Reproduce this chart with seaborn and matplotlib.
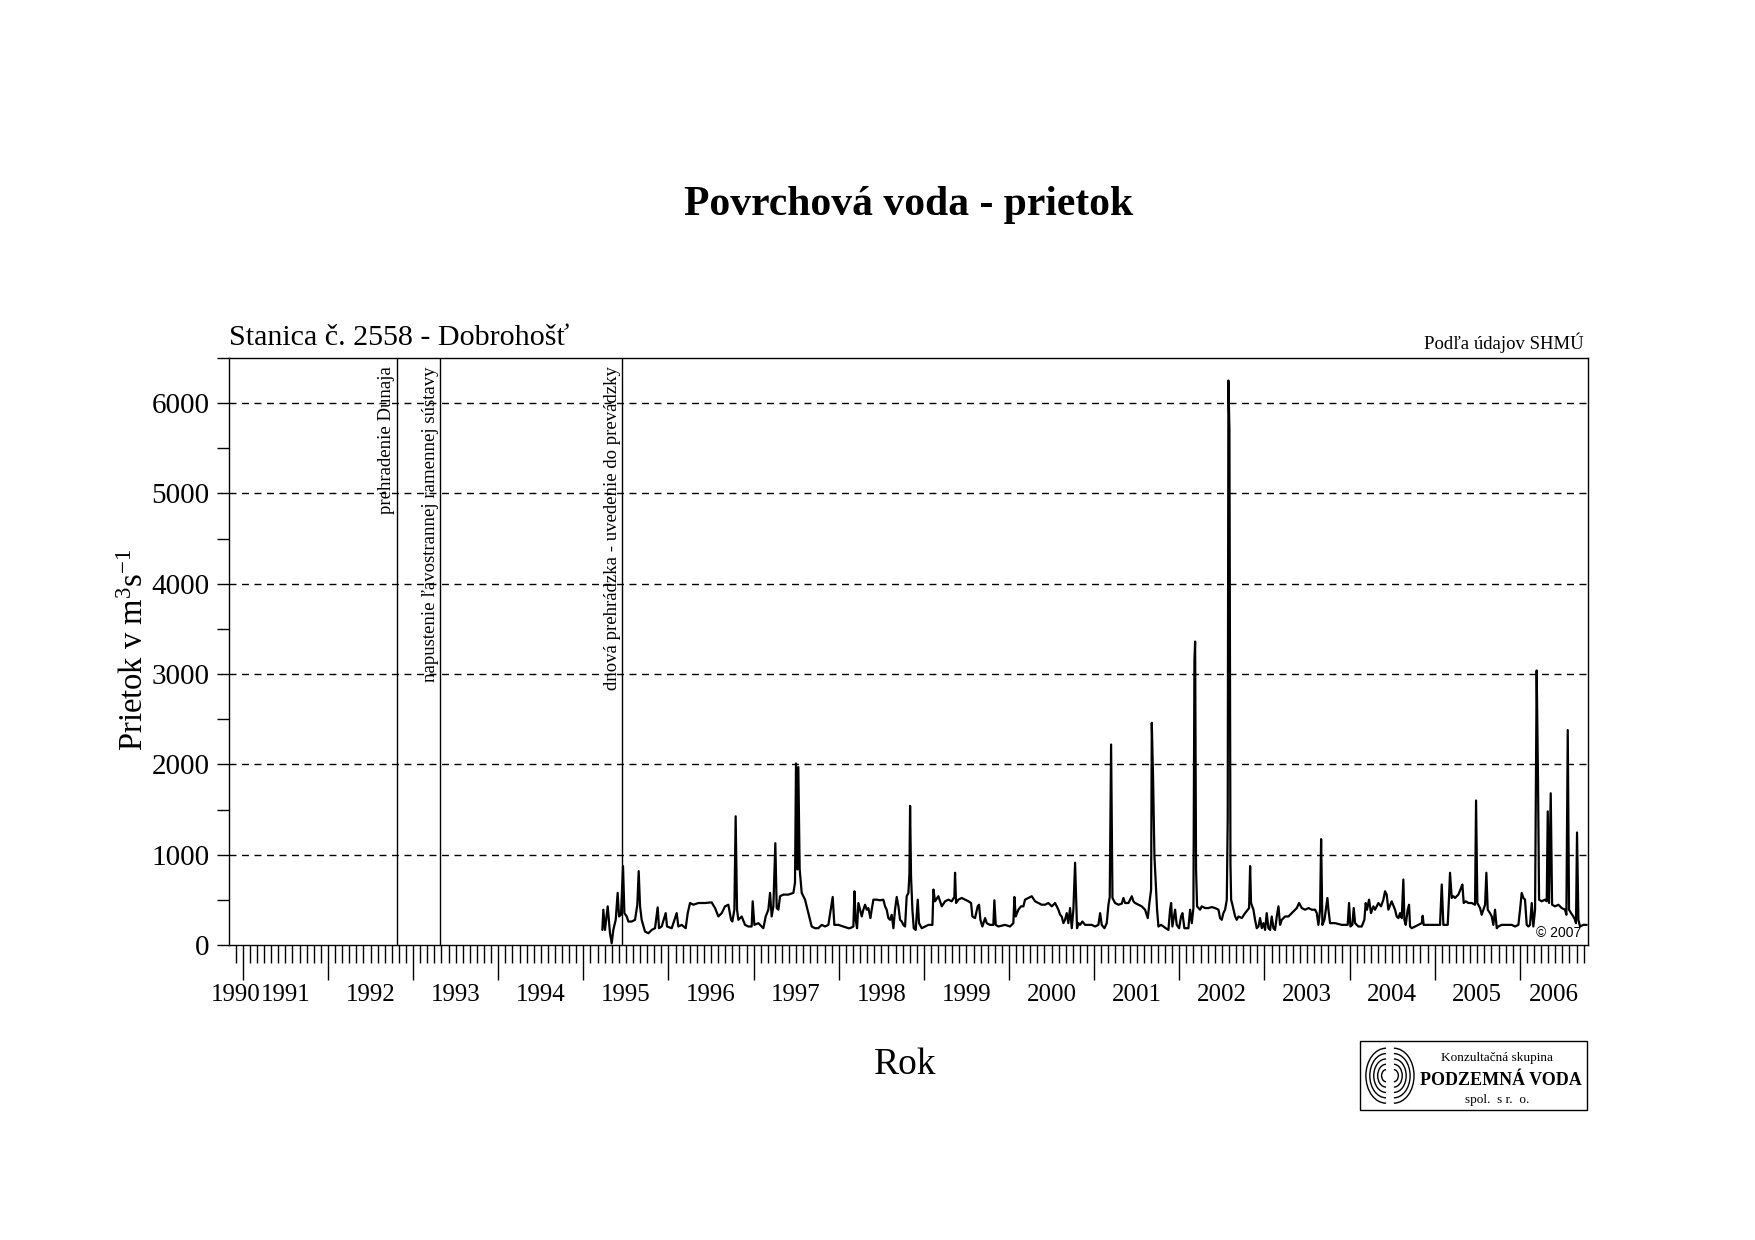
import numpy as np
import pandas as pd
import matplotlib
matplotlib.use('Agg')
import matplotlib.pyplot as plt
from matplotlib.ticker import MultipleLocator
from matplotlib.patches import Rectangle, Arc
import seaborn as sns

# discharge at station 2558 Dobrohošť
# (decimal year, m3/s)
years = [
    1995.223, 1995.235, 1995.254, 1995.286, 1995.313, 1995.333, 1995.352, 1995.380, 1995.403, 1995.419,
    1995.442, 1995.466, 1995.482, 1995.509, 1995.529, 1995.568, 1995.607, 1995.634, 1995.650, 1995.666,
    1995.685, 1995.724, 1995.764, 1995.803, 1995.842, 1995.873, 1995.889, 1995.920, 1995.967, 1995.983,
    1996.038, 1996.096, 1996.116, 1996.155, 1996.202, 1996.226, 1996.253, 1996.292, 1996.351, 1996.429,
    1996.507, 1996.547, 1996.586, 1996.625, 1996.664, 1996.703, 1996.735, 1996.750, 1996.774, 1996.789,
    1996.805, 1996.821, 1996.860, 1996.899, 1996.938, 1996.977, 1996.989, 1997.009, 1997.056, 1997.114,
    1997.142, 1997.173, 1997.193, 1997.212, 1997.232, 1997.255, 1997.271, 1997.291, 1997.310, 1997.349,
    1997.408, 1997.467, 1997.486, 1997.498, 1997.514, 1997.525, 1997.541, 1997.565, 1997.604, 1997.643,
    1997.682, 1997.721, 1997.760, 1997.800, 1997.839, 1997.878, 1997.929, 1997.948, 1997.995, 1998.054,
    1998.113,
    # 1998 - 2000
    1998.133, 1998.172, 1998.184, 1998.199, 1998.215, 1998.231, 1998.250, 1998.270, 1998.289, 1998.309,
    1998.329, 1998.348, 1998.372, 1998.387, 1998.407, 1998.446, 1998.485, 1998.524, 1998.544, 1998.563,
    1998.583, 1998.603, 1998.622, 1998.642, 1998.661, 1998.681, 1998.701, 1998.720, 1998.740, 1998.759,
    1998.779, 1998.798, 1998.818, 1998.830, 1998.838, 1998.849, 1998.865, 1998.881, 1998.904, 1998.928,
    1998.943, 1998.975, 1999.014, 1999.053, 1999.100, 1999.112, 1999.131, 1999.170, 1999.210, 1999.249,
    1999.288, 1999.327, 1999.358, 1999.366, 1999.378, 1999.405, 1999.444, 1999.484, 1999.523, 1999.554,
    1999.570, 1999.601, 1999.632, 1999.648, 1999.664, 1999.687, 1999.719, 1999.738, 1999.777, 1999.816,
    1999.828, 1999.844, 1999.875, 1999.953, 2000.012, 2000.051, 2000.063, 2000.079, 2000.110, 2000.141,
    2000.169, 2000.188, 2000.228, 2000.267, 2000.306, 2000.345, 2000.384, 2000.423, 2000.462, 2000.502,
    2000.541, 2000.580, 2000.600, 2000.619, 2000.639, 2000.658, 2000.678, 2000.697, 2000.717, 2000.737,
    2000.756, 2000.776, 2000.787, 2000.799, 2000.815, 2000.834, 2000.862, 2000.893, 2000.971,
    # 2001 - 2003
    2001.011, 2001.050, 2001.070, 2001.089, 2001.121, 2001.148, 2001.168, 2001.183, 2001.199, 2001.215,
    2001.246, 2001.285, 2001.324, 2001.344, 2001.363, 2001.403, 2001.442, 2001.461, 2001.481, 2001.520,
    2001.559, 2001.598, 2001.630, 2001.649, 2001.669, 2001.677, 2001.692, 2001.708, 2001.724, 2001.739,
    2001.755, 2001.786, 2001.814, 2001.841, 2001.872, 2001.892, 2001.904, 2001.919, 2001.951, 2001.970,
    2001.998, 2002.021, 2002.037, 2002.060, 2002.107, 2002.127, 2002.147, 2002.166, 2002.178, 2002.186,
    2002.197, 2002.209, 2002.244, 2002.264, 2002.303, 2002.342, 2002.381, 2002.421, 2002.460, 2002.479,
    2002.499, 2002.518, 2002.538, 2002.558, 2002.569, 2002.577, 2002.589, 2002.601, 2002.609, 2002.624,
    2002.656, 2002.675, 2002.695, 2002.734, 2002.773, 2002.804, 2002.820, 2002.832, 2002.843, 2002.871,
    2002.890, 2002.910, 2002.930, 2002.949, 2002.969, 2002.988, 2003.008, 2003.027, 2003.047, 2003.067,
    2003.086, 2003.106, 2003.125, 2003.145, 2003.165, 2003.184, 2003.204, 2003.243, 2003.282, 2003.321,
    2003.360, 2003.380, 2003.407, 2003.439, 2003.478, 2003.517, 2003.556, 2003.595, 2003.615, 2003.634,
    2003.654, 2003.666, 2003.681, 2003.705, 2003.724, 2003.740, 2003.752, 2003.771, 2003.830, 2003.908,
    # 2004 - 2006
    2003.947, 2003.978, 2003.994, 2004.010, 2004.033, 2004.049, 2004.065, 2004.104, 2004.143, 2004.174,
    2004.190, 2004.205, 2004.229, 2004.252, 2004.280, 2004.299, 2004.339, 2004.370, 2004.397, 2004.417,
    2004.436, 2004.456, 2004.495, 2004.534, 2004.554, 2004.574, 2004.593, 2004.613, 2004.632, 2004.644,
    2004.660, 2004.683, 2004.699, 2004.711, 2004.730, 2004.769, 2004.808, 2004.848, 2004.859, 2004.871,
    2004.926, 2005.004, 2005.063, 2005.083, 2005.102, 2005.122, 2005.153, 2005.169, 2005.180, 2005.200,
    2005.220, 2005.239, 2005.278, 2005.310, 2005.325, 2005.341, 2005.364, 2005.396, 2005.435, 2005.474,
    2005.486, 2005.501, 2005.533, 2005.552, 2005.572, 2005.592, 2005.607, 2005.623, 2005.650, 2005.670,
    2005.689, 2005.709, 2005.729, 2005.748, 2005.787, 2005.826, 2005.866, 2005.905, 2005.944, 2005.983,
    2006.003, 2006.022, 2006.042, 2006.061, 2006.081, 2006.101, 2006.120, 2006.140, 2006.159, 2006.179,
    2006.198, 2006.214, 2006.226, 2006.257, 2006.296, 2006.316, 2006.328, 2006.343, 2006.363, 2006.379,
    2006.414, 2006.453, 2006.492, 2006.531, 2006.547, 2006.563, 2006.578, 2006.602, 2006.629, 2006.649,
    2006.660, 2006.672, 2006.688, 2006.707, 2006.747, 2006.786,
]
flow = [
    167, 391, 167, 428, 130, 19, 167, 279, 577, 316,
    335, 874, 353, 316, 260, 260, 279, 446, 818, 428,
    279, 149, 130, 167, 186, 417, 186, 205, 353, 205,
    186, 353, 205, 223, 186, 353, 465, 446, 465, 465,
    472, 409, 316, 353, 428, 446, 279, 260, 391, 1425,
    391, 279, 316, 223, 205, 205, 484, 223, 242, 186,
    316, 391, 577, 316, 428, 1127, 409, 391, 540, 558,
    558, 577, 688, 2010, 837, 1970, 837, 577, 502, 353,
    205, 186, 186, 223, 205, 223, 532, 223, 223, 205,
    186,
    186, 205, 595, 279, 186, 465, 391, 316, 391, 446,
    391, 409, 298, 391, 502, 502, 495, 502, 428, 391,
    298, 279, 335, 186, 391, 532, 428, 279, 260, 223,
    205, 540, 577, 781, 1540, 763, 391, 186, 167, 502,
    242, 186, 205, 223, 223, 614, 484, 540, 428, 484,
    502, 484, 532, 800, 465, 502, 521, 502, 484, 465,
    316, 298, 428, 446, 279, 205, 298, 242, 223, 223,
    495, 223, 205, 223, 205, 242, 532, 316, 391, 428,
    428, 502, 521, 540, 484, 465, 446, 446, 465, 428,
    465, 391, 335, 316, 242, 279, 353, 242, 409, 186,
    391, 911, 577, 186, 242, 223, 260, 223, 223,
    205, 223, 353, 223, 186, 242, 446, 532, 2220, 521,
    465, 446, 458, 521, 465, 465, 540, 484, 465, 446,
    428, 391, 298, 465, 614, 2460, 1850, 986, 670, 391,
    205, 223, 205, 186, 167, 391, 465, 205, 391, 223,
    186, 316, 353, 186, 186, 391, 242, 409, 3150, 3360,
    837, 428, 391, 428, 409, 409, 420, 409, 391, 298,
    279, 353, 391, 502, 1400, 6250, 5700, 900, 502, 446,
    316, 279, 316, 298, 353, 391, 409, 874, 465, 391,
    279, 186, 205, 298, 186, 242, 167, 353, 186, 167,
    316, 186, 167, 316, 428, 223, 279, 316, 316, 353,
    391, 409, 465, 409, 391, 409, 391, 391, 353, 223,
    391, 1172, 223, 279, 409, 520, 391, 242, 242, 223,
    223, 223, 465, 205, 223, 409, 242, 205, 205, 279,
    465, 391, 502, 353, 428, 391, 465, 428, 502, 595,
    558, 391, 484, 391, 316, 298, 353, 298, 725, 279,
    223, 391, 446, 205, 186, 205, 223, 242, 324, 223,
    223, 223, 223, 670, 223, 223, 223, 540, 800, 521,
    540, 521, 558, 632, 670, 465, 484, 465, 465, 446,
    1600, 465, 409, 335, 391, 446, 800, 391, 353, 316,
    223, 391, 186, 205, 223, 223, 223, 223, 205, 223,
    391, 577, 521, 502, 223, 205, 223, 465, 205, 391,
    3040, 1800, 502, 484, 502, 484, 1480, 465, 1680, 446,
    428, 446, 409, 391, 335, 2380, 391, 353, 316, 279,
    242, 1246, 279, 205, 223, 223,
]

# events marked by vertical lines
event_years = [1992.808, 1993.315, 1995.458]
event_labels = [
    'prehradenie Dunaja',
    'napustenie ľavostrannej ramennej sústavy',
    'dnová prehrádzka - uvedenie do prevádzky',
]

label_years = list(range(1990, 2007))
y_ticks = [0, 1000, 2000, 3000, 4000, 5000, 6000]
grid_levels = [1000, 2000, 3000, 4000, 5000, 6000]
x_range = (1990.838, 2006.80)
y_range = (0, 6500)

df = pd.DataFrame({'rok': years, 'prietok': flow})

sns.set_theme(style='white')
plt.rcParams['font.family'] = ['Liberation Serif', 'DejaVu Serif']
plt.rcParams['mathtext.fontset'] = 'custom'
plt.rcParams['mathtext.rm'] = 'Liberation Serif'
plt.rcParams['mathtext.it'] = 'Liberation Serif:italic'
plt.rcParams['text.color'] = 'black'
plt.rcParams['axes.labelcolor'] = 'black'
plt.rcParams['xtick.color'] = 'black'
plt.rcParams['ytick.color'] = 'black'

fig = plt.figure(figsize=(17.55, 12.4), dpi=100)
ax = fig.add_axes([0.1305, 0.2379, 0.9048 - 0.1305, 0.7113 - 0.2379])

for lev in grid_levels:
    ax.axhline(lev, color='black', lw=1.0, ls=(0, (5, 4)), zorder=1)

for ev in event_years:
    ax.axvline(ev, color='black', lw=1.0, zorder=2)

sns.lineplot(data=df, x='rok', y='prietok', color='black', linewidth=1.6,
             estimator=None, errorbar=None, ax=ax, zorder=3)

ax.set_xlim(*x_range)
ax.set_ylim(*y_range)
ax.set_xlabel('')
ax.set_ylabel('')

# y axis
ax.set_yticks(y_ticks)
ax.set_yticklabels([str(v) for v in y_ticks])
ax.yaxis.set_minor_locator(MultipleLocator(500))
ax.tick_params(axis='y', which='both', left=True, direction='out', length=9,
               width=1, color='black', labelcolor='black', labelsize=21, pad=5)

# x axis: long ticks at year boundaries, monthly minor ticks, labels mid-year
year_starts = [y for y in range(1990, 2008) if x_range[0] < y < x_range[1]]
months = [y + m / 12 for y in range(1990, 2007) for m in range(1, 12)
          if x_range[0] < y + m / 12 < x_range[1]]
ax.set_xticks(year_starts)
ax.set_xticklabels([])
ax.set_xticks(months, minor=True)
ax.tick_params(axis='x', which='major', bottom=True, direction='out', length=25,
               width=1, color='black')
ax.tick_params(axis='x', which='minor', bottom=True, direction='out', length=13,
               width=1, color='black')
for y in label_years:
    mid = (max(y, x_range[0]) + min(y + 1, x_range[1])) / 2
    ax.text(mid, -0.086, str(y), transform=ax.get_xaxis_transform(),
            ha='center', va='center', fontsize=18, color='black')

for s in ax.spines.values():
    s.set_color('black')
    s.set_linewidth(1.0)
    s.set_visible(True)

# event labels
for ev, txt in zip(event_years, event_labels):
    ax.annotate(txt, xy=(ev, 1), xycoords=('data', 'axes fraction'),
                xytext=(-1, -6), textcoords='offset points', rotation=90,
                ha='right', va='top', fontsize=13.5, color='black')

ax.text(0.0, 1.012, 'Stanica č. 2558 - Dobrohošť', transform=ax.transAxes,
        ha='left', va='bottom', fontsize=21.6)
ax.text(0.997, 1.008, 'Podľa údajov SHMÚ', transform=ax.transAxes,
        ha='right', va='bottom', fontsize=13.5)
ax.text(0.995, 0.008, '© 2007', transform=ax.transAxes, ha='right', va='bottom',
        fontsize=10, family=['Liberation Sans', 'DejaVu Sans'])

fig.text(0.518, 0.835, 'Povrchová voda - prietok', ha='center', va='center',
         fontsize=30, fontweight='bold')
fig.text(0.516, 0.141, 'Rok', ha='center', va='center', fontsize=27)
fig.text(0.077, 0.476, r'Prietok v m$^{3}$s$^{-1}$', ha='center', va='center',
         rotation=90, fontsize=23.5)

# company box
fig.patches.append(Rectangle((0.775, 0.1050), 0.129, 0.0557, transform=fig.transFigure,
                             fill=False, edgecolor='black', lw=1.0))
fig.text(0.853, 0.1467, 'Konzultačná skupina', ha='center', va='center', fontsize=9.5)
fig.text(0.855, 0.1285, 'PODZEMNÁ VODA', ha='center', va='center', fontsize=13,
         fontweight='bold')
fig.text(0.853, 0.1125, 'spol.  s r.  o.', ha='center', va='center', fontsize=9.5)

logo = fig.add_axes([0.778, 0.109, 0.028, 0.047])
logo.set_xlim(0, 1)
logo.set_ylim(0, 1)
logo.axis('off')
for r in [0.18, 0.34, 0.5, 0.66, 0.82]:
    logo.add_patch(Arc((0.42, 0.5), r, r * 1.15, theta1=90, theta2=270, lw=1.0, color='black'))
    logo.add_patch(Arc((0.58, 0.5), r, r * 1.15, theta1=-90, theta2=90, lw=1.0, color='black'))

fig.savefig('out.png', dpi=100)
